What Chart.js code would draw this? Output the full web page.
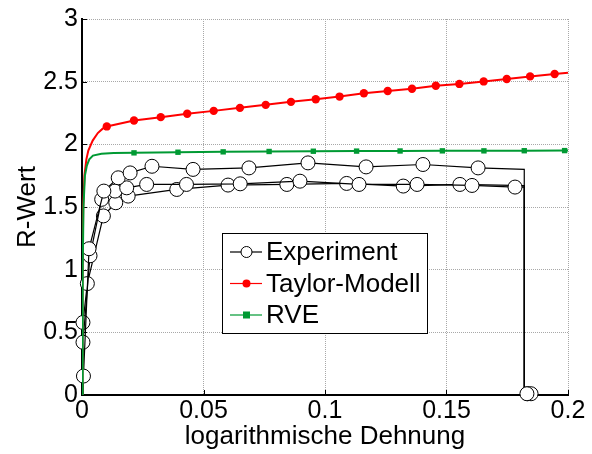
<!DOCTYPE html>
<html>
<head>
<meta charset="utf-8">
<script src="https://cdn.jsdelivr.net/npm/chart.js@4.4.1/dist/chart.umd.min.js"></script>
<style>
    html, body { margin: 0; padding: 0; background: #fff; }
</style>
</head>
<body>
<canvas id="main-chart" width="592" height="454"></canvas>
<script>
// tick labels
const xTickLabels = ['0', '0.05', '0.1', '0.15', '0.2'];
const yTickLabels = ['0', '0.5', '1', '1.5', '2', '2.5', '3'];

// Experiment, three specimens (log. strain / R-value)
const expAStrain = [0, 0.0006, 0.0029, 0.009, 0.0149, 0.0198, 0.0288, 0.0457, 0.0687, 0.093, 0.1169, 0.1403, 0.163, 0.182, 0.182, 0.1831];
const expAR      = [0, 0.151, 1.167, 1.627, 1.733, 1.772, 1.825, 1.80, 1.812, 1.852, 1.82, 1.839, 1.812, 1.80, 0, 0.01];
const expBStrain = [0, 0.0004, 0.0033, 0.0081, 0.0136, 0.0184, 0.0266, 0.043, 0.0651, 0.0897, 0.114, 0.1379, 0.1605, 0.1782, 0.182, 0.182, 0.1848];
const expBR      = [0, 0.421, 1.111, 1.561, 1.627, 1.653, 1.68, 1.68, 1.685, 1.706, 1.68, 1.68, 1.672, 1.659, 1.66, 0, 0.01];
const expCStrain = [0, 0.0004, 0.0022, 0.0088, 0.0139, 0.019, 0.039, 0.0601, 0.0843, 0.1089, 0.1322, 0.1555, 0.182, 0.182, 0.1834];
const expCR      = [0, 0.579, 0.889, 1.429, 1.534, 1.587, 1.64, 1.675, 1.68, 1.688, 1.667, 1.68, 1.67, 0, 0.01];

// Taylor-Modell
const taylorRampStrain = [0, 0.0002, 0.0005, 0.001, 0.0018, 0.0026, 0.0044, 0.0065, 0.0085];
const taylorRampR      = [0, 0.9, 1.5, 1.75, 1.88, 1.95, 2.03, 2.09, 2.125];
const taylorMarkStrain = [0.0102, 0.0214, 0.0324, 0.0433, 0.0542, 0.065, 0.0756, 0.086, 0.0962, 0.106, 0.116, 0.1258, 0.1358, 0.1456, 0.1553, 0.1653, 0.1748, 0.1844, 0.1945];
const taylorMarkR      = [2.143, 2.19, 2.217, 2.244, 2.267, 2.291, 2.315, 2.339, 2.36, 2.381, 2.407, 2.426, 2.444, 2.468, 2.482, 2.502, 2.521, 2.542, 2.561];
const taylorEndStrain  = [0.2];
const taylorEndR       = [2.572];

// RVE
const rveRampStrain = [0, 0.0003, 0.0006, 0.0012, 0.002, 0.003, 0.0045, 0.008, 0.013];
const rveRampR      = [0, 1.0, 1.5, 1.75, 1.83, 1.88, 1.91, 1.925, 1.93];
const rveMarkStrain = [0.0214, 0.0395, 0.0581, 0.077, 0.0952, 0.113, 0.1309, 0.1483, 0.1654, 0.182, 0.1986];
const rveMarkR      = [1.932, 1.937, 1.94, 1.943, 1.945, 1.946, 1.947, 1.948, 1.948, 1.949, 1.95];
const rveEndStrain  = [0.2];
const rveEndR       = [1.95];

const FONT = 'Liberation Sans, Arial, sans-serif';
const GREEN = '#009a33';
const RED = '#ff0000';

function pts(xs, ys) {
    return xs.map((x, i) => ({ x: x, y: ys[i] }));
}

// no circle on the origin and on the two corners of the drop
function expRadius(ctx) {
    const n = ctx.dataset.data.length;
    const i = ctx.dataIndex;
    if (i === 0 || i === n - 2 || i === n - 3) return 0;
    return 7;
}

function expSet(label, xs, ys) {
    return {
        label: label,
        data: pts(xs, ys),
        showLine: true,
        borderColor: '#000',
        borderWidth: 1.2,
        pointRadius: expRadius,
        pointBackgroundColor: '#fff',
        pointBorderColor: '#000',
        pointBorderWidth: 1,
        clip: false,
        order: 3
    };
}

const innerTicks = {
    id: 'innerTicks',
    beforeDatasetsDraw(chart) {
        const { ctx, chartArea: a, scales: { x, y } } = chart;
        ctx.save();
        ctx.strokeStyle = '#000';
        ctx.lineWidth = 1;
        ctx.beginPath();
        x.ticks.forEach(t => {
            const px = Math.round(x.getPixelForValue(t.value)) + 0.5;
            ctx.moveTo(px, a.bottom);
            ctx.lineTo(px, a.bottom - 5);
        });
        y.ticks.forEach(t => {
            const py = Math.round(y.getPixelForValue(t.value)) + 0.5;
            ctx.moveTo(a.left, py);
            ctx.lineTo(a.left + 5, py);
        });
        ctx.stroke();
        ctx.restore();
    }
};

const boxLegend = {
    id: 'boxLegend',
    afterDraw(chart) {
        const { ctx, chartArea: a } = chart;
        const left = a.left + 140, top = a.top + 214, w = 205, h = 100;
        const entries = [
            { label: 'Experiment', color: '#000', marker: 'circle' },
            { label: 'Taylor-Modell', color: RED, marker: 'dot' },
            { label: 'RVE', color: GREEN, marker: 'square' }
        ];
        ctx.save();
        ctx.fillStyle = '#fff';
        ctx.fillRect(left, top, w, h);
        ctx.strokeStyle = '#000';
        ctx.lineWidth = 1;
        ctx.strokeRect(left + 0.5, top + 0.5, w, h);
        entries.forEach((e, i) => {
            const cy = top + 19 + i * 31.5;
            ctx.strokeStyle = e.color;
            ctx.lineWidth = 1.2;
            ctx.beginPath();
            ctx.moveTo(left + 8, cy);
            ctx.lineTo(left + 40, cy);
            ctx.stroke();
            const mx = left + 24.5;
            if (e.marker === 'circle') {
                ctx.beginPath();
                ctx.arc(mx, cy, 5.5, 0, Math.PI * 2);
                ctx.fillStyle = '#fff';
                ctx.fill();
                ctx.strokeStyle = '#000';
                ctx.lineWidth = 1;
                ctx.stroke();
            } else if (e.marker === 'dot') {
                ctx.beginPath();
                ctx.arc(mx, cy, 4, 0, Math.PI * 2);
                ctx.fillStyle = e.color;
                ctx.fill();
            } else {
                ctx.fillStyle = e.color;
                ctx.fillRect(mx - 3.5, cy - 3.5, 7, 7);
            }
            ctx.fillStyle = '#000';
            ctx.font = '26px ' + FONT;
            ctx.textBaseline = 'middle';
            ctx.textAlign = 'left';
            ctx.fillText(e.label, left + 44, cy + 1);
        });
        ctx.restore();
    }
};

const datasets = [
    {
        label: 'RVE',
        data: pts(rveRampStrain.concat(rveMarkStrain, rveEndStrain), rveRampR.concat(rveMarkR, rveEndR)),
        showLine: true, borderColor: GREEN, borderWidth: 2, pointRadius: 0, order: 0
    },
    {
        label: 'RVE Marker',
        data: pts(rveMarkStrain, rveMarkR),
        showLine: false, pointStyle: 'rect', pointRadius: 3.8,
        pointBackgroundColor: GREEN, pointBorderColor: GREEN, pointBorderWidth: 0, order: 0
    },
    {
        label: 'Taylor-Modell',
        data: pts(taylorRampStrain.concat(taylorMarkStrain, taylorEndStrain), taylorRampR.concat(taylorMarkR, taylorEndR)),
        showLine: true, borderColor: RED, borderWidth: 2, pointRadius: 0, order: 1
    },
    {
        label: 'Taylor Marker',
        data: pts(taylorMarkStrain, taylorMarkR),
        showLine: false, pointRadius: 4.2,
        pointBackgroundColor: RED, pointBorderColor: RED, pointBorderWidth: 0, order: 1
    },
    expSet('Experiment', expAStrain, expAR),
    expSet('Experiment 2', expBStrain, expBR),
    expSet('Experiment 3', expCStrain, expCR)
];

const chart = new Chart(document.getElementById('main-chart'), {
    type: 'scatter',
    data: { datasets: datasets },
    options: {
        responsive: false,
        animation: false,
        devicePixelRatio: 1,
        layout: { padding: { left: 0, right: 24, top: 17, bottom: 0 } },
        plugins: { legend: { display: false }, tooltip: { enabled: false } },
        events: [],
        scales: {
            x: {
                type: 'linear', min: 0, max: 0.2,
                afterFit: s => { s.height = 59; },
                ticks: {
                    stepSize: 0.05, autoSkip: false, maxRotation: 0, padding: 1,
                    color: '#000', font: { family: FONT, size: 25 },
                    callback: (v, i) => xTickLabels[i]
                },
                grid: {
                    drawTicks: false, lineWidth: 1,
                    color: c => c.index === 0 ? 'rgba(0,0,0,0)' : '#a8a8a8'
                },
                border: { display: true, color: '#000', width: 2, dash: [1, 1] },
                title: {
                    display: true, text: 'logarithmische Dehnung', color: '#000',
                    font: { family: FONT, size: 26 }, padding: { top: 0, bottom: 2 }
                }
            },
            y: {
                type: 'linear', min: 0, max: 3,
                afterFit: s => { s.width = 82; },
                ticks: {
                    stepSize: 0.5, padding: 4,
                    color: '#000', font: { family: FONT, size: 25 },
                    callback: (v, i) => yTickLabels[i]
                },
                grid: {
                    drawTicks: false, lineWidth: 1,
                    color: c => c.index === 0 ? 'rgba(0,0,0,0)' : '#a8a8a8'
                },
                border: { display: true, color: '#000', width: 2, dash: [1, 1] },
                title: {
                    display: true, text: 'R-Wert', color: '#000',
                    font: { family: FONT, size: 26 }, padding: { top: 12, bottom: 0 }
                }
            }
        }
    },
    plugins: [innerTicks, boxLegend]
});
</script>
</body>
</html>
